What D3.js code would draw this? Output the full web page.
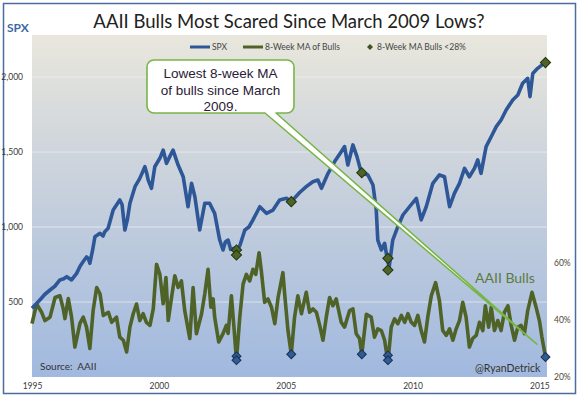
<!DOCTYPE html>
<html>
<head>
<meta charset="utf-8">
<script src="https://cdn.jsdelivr.net/npm/d3@7/dist/d3.min.js"></script>
<style>
  body { margin: 0; background: #fff; }
  svg { display: block; }
</style>
</head>
<body>
<div id="chart"></div>
<script>
// S&P 500 (weekly-ish closes), decimal years
const spxYear = [1995.00, 1995.15, 1995.31, 1995.50, 1995.71, 1995.90, 1996.10, 1996.25, 1996.37, 1996.56,
  1996.76, 1996.90, 1997.02, 1997.15, 1997.22, 1997.28, 1997.39, 1997.48, 1997.68, 1997.80, 1997.87, 1998.00,
  1998.20, 1998.46, 1998.55, 1998.66, 1998.76, 1998.86, 1999.06, 1999.25, 1999.45, 1999.52, 1999.58, 1999.71,
  1999.84, 2000.04, 2000.17, 2000.30, 2000.43, 2000.56, 2000.76, 2000.96, 2001.15, 2001.29, 2001.42, 2001.61,
  2001.81, 2002.00, 2002.20, 2002.40, 2002.53, 2002.62, 2002.73, 2002.83, 2002.95, 2003.06, 2003.20, 2003.39,
  2003.55, 2003.71, 2003.98, 2004.24, 2004.50, 2004.76, 2005.03, 2005.22, 2005.55, 2005.81, 2006.07, 2006.27,
  2006.41, 2006.67, 2006.93, 2007.19, 2007.32, 2007.45, 2007.65, 2007.81, 2007.98, 2008.24, 2008.44, 2008.57,
  2008.63, 2008.77, 2008.90, 2009.00, 2009.08, 2009.22, 2009.42, 2009.62, 2009.88, 2010.15, 2010.34, 2010.54,
  2010.80, 2011.06, 2011.26, 2011.46, 2011.65, 2011.85, 2012.05, 2012.24, 2012.44, 2012.57, 2012.70, 2012.90,
  2013.10, 2013.30, 2013.49, 2013.69, 2013.95, 2014.15, 2014.34, 2014.54, 2014.63, 2014.74, 2014.93, 2015.22];
const spxVal = [458, 485, 513, 550, 580, 605, 647, 655, 669, 647,
  691, 740, 770, 800, 791, 758, 847, 935, 958, 940, 969, 991,
  1113, 1180, 1150, 980, 1050, 1158, 1269, 1324, 1402, 1360, 1313, 1258,
  1402, 1458, 1513, 1424, 1469, 1513, 1413, 1335, 1135, 1291, 1202, 980,
  1158, 1158, 1091, 913, 847, 900, 913, 850, 858, 830, 880, 980,
  1000, 1047, 1135, 1091, 1113, 1180, 1191, 1169, 1230, 1269, 1302, 1313,
  1258, 1358, 1436, 1502, 1536, 1413, 1547, 1469, 1362, 1347, 1280, 1113,
  913, 847, 891, 790, 735, 913, 1002, 1080, 1135, 1191, 1047, 1135,
  1291, 1347, 1335, 1135, 1224, 1291, 1391, 1335, 1391, 1447, 1358, 1536,
  1602, 1669, 1713, 1780, 1847, 1880, 1958, 1991, 1869, 2024, 2058, 2096];

// AAII bulls, 8-week moving average (%)
const bullYear = [1995.00, 1995.18, 1995.38, 1995.51, 1995.71, 1995.91, 1996.10, 1996.23, 1996.30, 1996.43,
  1996.56, 1996.69, 1996.89, 1997.02, 1997.15, 1997.28, 1997.41, 1997.55, 1997.68, 1997.81, 1998.01, 1998.14,
  1998.33, 1998.46, 1998.60, 1998.73, 1998.86, 1998.99, 1999.12, 1999.25, 1999.38, 1999.51, 1999.65, 1999.78,
  1999.91, 2000.04, 2000.17, 2000.28, 2000.37, 2000.50, 2000.63, 2000.76, 2000.89, 2001.02, 2001.22, 2001.35,
  2001.48, 2001.68, 2001.81, 2001.94, 2002.05, 2002.14, 2002.20, 2002.36, 2002.53, 2002.66, 2002.73, 2002.86,
  2002.96, 2003.06, 2003.19, 2003.32, 2003.45, 2003.58, 2003.71, 2003.82, 2003.95, 2004.04, 2004.17, 2004.30,
  2004.44, 2004.57, 2004.70, 2004.89, 2004.96, 2005.09, 2005.22, 2005.35, 2005.48, 2005.62, 2005.81, 2005.94,
  2006.07, 2006.21, 2006.34, 2006.47, 2006.60, 2006.73, 2006.86, 2006.99, 2007.19, 2007.32, 2007.52, 2007.65,
  2007.78, 2007.91, 2008.00, 2008.18, 2008.37, 2008.50, 2008.63, 2008.77, 2008.90, 2009.03, 2009.16, 2009.29,
  2009.42, 2009.56, 2009.69, 2009.82, 2009.95, 2010.08, 2010.21, 2010.34, 2010.47, 2010.60, 2010.74, 2010.91,
  2011.06, 2011.19, 2011.33, 2011.46, 2011.59, 2011.72, 2011.85, 2011.98, 2012.11, 2012.24, 2012.37, 2012.51,
  2012.64, 2012.77, 2012.87, 2013.00, 2013.10, 2013.23, 2013.36, 2013.49, 2013.62, 2013.76, 2013.89, 2014.02,
  2014.15, 2014.28, 2014.41, 2014.54, 2014.71, 2014.87, 2015.00, 2015.10, 2015.24];
const bullPct = [38.7, 45.6, 42.7, 39.8, 41, 47.9, 48.5, 44, 40.5, 47.5,
  41, 30.5, 38.8, 41, 37.5, 30, 43.3, 51.4, 49.2, 41.6, 42.7, 39.2,
  41, 34, 32.9, 28.8, 37.5, 42.2, 45.6, 39.8, 42.2, 39.2, 38.1, 43.9,
  59.5, 56, 45.7, 54.9, 39.8, 47.9, 55.5, 51.4, 53.7, 43.3, 33.5, 51.4,
  35.2, 42, 49.1, 57.8, 44.5, 47.4, 41, 32.3, 35.2, 38.1, 35.3, 48.5,
  37.5, 25.9, 41, 52.6, 56, 53.7, 57.8, 56, 63.6, 57.2, 46.2, 47.4,
  44.5, 38.7, 47.9, 56.6, 49.1, 36.3, 28, 41, 48.5, 42.2, 49.7, 42.7,
  43.9, 42.7, 38.1, 32.9, 41, 47.9, 45, 47.4, 39.2, 37.5, 43.3, 43.9,
  35.2, 33.5, 28, 42, 41, 34, 36.9, 36.3, 32.9, 25.2, 37.5, 40.4,
  38.7, 41.6, 39.2, 42.2, 39.2, 38.1, 41.6, 36.3, 32.3, 41, 48.5, 53.1,
  46.8, 36.3, 34.6, 36.9, 32.9, 36.9, 39.8, 46.2, 41, 30.5, 33.5, 34.6,
  39.2, 36.3, 45, 37.5, 44.5, 36.3, 39.8, 36.3, 42.7, 45, 38.1, 32.9,
  37.5, 38.1, 35.2, 43.3, 49.7, 44.5, 39.8, 34, 27];

// weeks where the 8-week MA of bulls dropped under 28%
const signalYear = [2003.06, 2003.06, 2005.22, 2008.00, 2009.03, 2009.03, 2015.24];
const signalSpx = [847, 813, 1169, 1362, 791, 713, 2096];
const signalBull = [27.3, 25.9, 28, 28, 27.6, 25.9, 27];

const xTicks = [1995, 2000, 2005, 2010, 2015];
const spxTicks = [500, 1000, 1500, 2000];
const bullTicks = [20, 40, 60];

const legendItems = [
  { label: 'SPX', type: 'line', color: '#2e5797' },
  { label: '8-Week MA of Bulls', type: 'line', color: '#4f6228' },
  { label: '8-Week MA Bulls <28%', type: 'diamond', color: '#3f5220' }
];

function createViz(elem) {
  const width = 579,
    height = 397,
    margin = { top: 35, right: 32, bottom: 20, left: 32 },
    spxColor = '#2e5797',
    bullColor = '#4f6228',
    calloutGreen = '#78b547';

  const plotW = width - margin.left - margin.right,
    plotH = height - margin.top - margin.bottom;

  const svg = d3.select(elem)
    .append('svg')
    .attr('width', width)
    .attr('height', height)
    .style('font-family', 'Lato, "Open Sans", sans-serif');

  // plot-area gradient (beige-grey at top to blue at the bottom)
  const grad = svg.append('defs')
    .append('linearGradient')
    .attr('id', 'bg')
    .attr('x1', 0).attr('y1', 0).attr('x2', 0).attr('y2', 1);
  grad.append('stop').attr('offset', '0%').attr('stop-color', '#e9e7dd');
  grad.append('stop').attr('offset', '30%').attr('stop-color', '#d2d7dc');
  grad.append('stop').attr('offset', '100%').attr('stop-color', '#a1b9df');

  // chart frame
  svg.append('rect')
    .attr('x', 3.5).attr('y', 3.5)
    .attr('width', width - 7).attr('height', height - 7)
    .attr('fill', '#fff')
    .attr('stroke', '#4a6d9c')
    .attr('stroke-width', 1.5);

  const g = svg.append('g')
    .attr('transform', 'translate(' + margin.left + ',' + margin.top + ')');

  g.append('rect')
    .attr('width', plotW)
    .attr('height', plotH)
    .attr('fill', 'url(#bg)');

  // scales
  const x = d3.scaleLinear().domain([1995, 2015.3]).range([0, plotW]);
  const ySpx = d3.scaleLinear().domain([0, 2280]).range([plotH, 0]);
  const yBull = d3.scaleLinear().domain([20, 140]).range([plotH, 0]);

  // gridlines
  g.append('g')
    .selectAll('line')
    .data(spxTicks)
    .enter()
    .append('line')
    .attr('x1', 0).attr('x2', plotW)
    .attr('y1', d => ySpx(d)).attr('y2', d => ySpx(d))
    .attr('stroke', '#eef1f3')
    .attr('stroke-opacity', 0.7)
    .attr('stroke-width', 1);

  // axes, no lines or ticks, just labels
  const axisLeft = g.append('g')
    .call(d3.axisLeft(ySpx).tickValues(spxTicks).tickFormat(d3.format(',')).tickSize(0).tickPadding(9));
  const axisRight = g.append('g')
    .attr('transform', 'translate(' + plotW + ',0)')
    .call(d3.axisRight(yBull).tickValues(bullTicks).tickFormat(d => d + '%').tickSize(0).tickPadding(7));
  const axisBottom = g.append('g')
    .attr('transform', 'translate(0,' + plotH + ')')
    .call(d3.axisBottom(x).tickValues(xTicks).tickFormat(d3.format('d')).tickSize(0).tickPadding(6));

  [axisLeft, axisRight, axisBottom].forEach(a => {
    a.select('.domain').remove();
    a.selectAll('text')
      .attr('font-size', '8.5px')
      .style('font-family', 'Lato, sans-serif')
      .attr('fill', '#3a3a3a');
  });
  axisRight.selectAll('text').attr('fill', '#4a4a30');

  // series
  const spxData = d3.zip(spxYear, spxVal);
  const bullData = d3.zip(bullYear, bullPct);

  g.append('path')
    .datum(bullData)
    .attr('fill', 'none')
    .attr('stroke', bullColor)
    .attr('stroke-width', 3.6)
    .attr('stroke-linejoin', 'round')
    .attr('d', d3.line().x(d => x(d[0])).y(d => yBull(d[1])));

  g.append('path')
    .datum(spxData)
    .attr('fill', 'none')
    .attr('stroke', spxColor)
    .attr('stroke-width', 3.6)
    .attr('stroke-linejoin', 'round')
    .attr('d', d3.line().x(d => x(d[0])).y(d => ySpx(d[1])));

  // signal diamonds: green on the SPX line, blue on the bulls line
  const signals = signalYear.map((yr, i) => ({ yr: yr, spx: signalSpx[i], bull: signalBull[i] }));
  const diamond = d3.symbol().type(d3.symbolSquare);

  g.append('g')
    .selectAll('path')
    .data(signals)
    .enter()
    .append('path')
    .attr('d', diamond.size(52)())
    .attr('transform', d => 'translate(' + x(d.yr) + ',' + ySpx(d.spx) + ')rotate(45)')
    .attr('fill', '#4c6426')
    .attr('stroke', '#26330f')
    .attr('stroke-width', 1);

  g.append('g')
    .selectAll('path')
    .data(signals)
    .enter()
    .append('path')
    .attr('d', diamond.size(40)())
    .attr('transform', d => 'translate(' + x(d.yr) + ',' + yBull(d.bull) + ')rotate(45)')
    .attr('fill', '#2f5b97')
    .attr('stroke', '#1b2f52')
    .attr('stroke-width', 1);

  ////// LEGEND ////////////
  const legendX = [158, 211, 335];
  const legend = g.append('g')
    .attr('transform', 'translate(0,12)');
  const items = legend.selectAll('g')
    .data(legendItems)
    .enter()
    .append('g')
    .attr('transform', (d, i) => 'translate(' + legendX[i] + ',0)');
  items.filter(d => d.type === 'line')
    .append('line')
    .attr('x1', 0).attr('x2', 20)
    .attr('stroke', d => d.color)
    .attr('stroke-width', 3);
  items.filter(d => d.type === 'diamond')
    .append('path')
    .attr('d', diamond.size(18)())
    .attr('transform', 'translate(3,0)rotate(45)')
    .attr('fill', d => d.color);
  items.append('text')
    .attr('x', d => d.type === 'line' ? 22 : 10)
    .attr('dy', '0.35em')
    .attr('font-size', '8.5px')
    .attr('fill', '#444')
    .text(d => d.label);

  // labels inside the plot
  g.append('text')
    .attr('x', 443).attr('y', 248)
    .attr('font-size', '14px')
    .attr('fill', '#5d7a3e')
    .text('AAII Bulls');

  g.append('text')
    .attr('x', 8).attr('y', 335)
    .attr('font-size', '10px')
    .attr('fill', '#333')
    .attr('xml:space', 'preserve')
    .text('Source:  AAII');

  g.append('text')
    .attr('x', 443).attr('y', 337)
    .attr('font-size', '10.5px')
    .attr('fill', '#333')
    .text('@RyanDetrick');

  // callout box with its pointer down to the latest reading
  const tipX = x(2014.9), tipY = yBull(31.5);
  const bx = 115, by = 25, bw = 147, bh = 53, r = 7;
  const baseL = 118 + bx, baseR = 129 + bx;
  const callout = d3.path();
  callout.moveTo(bx + r, by);
  callout.lineTo(bx + bw - r, by);
  callout.arcTo(bx + bw, by, bx + bw, by + r, r);
  callout.lineTo(bx + bw, by + bh - r);
  callout.arcTo(bx + bw, by + bh, bx + bw - r, by + bh, r);
  callout.lineTo(baseR, by + bh);
  callout.lineTo(tipX, tipY);
  callout.lineTo(baseL, by + bh);
  callout.lineTo(bx + r, by + bh);
  callout.arcTo(bx, by + bh, bx, by + bh - r, r);
  callout.lineTo(bx, by + r);
  callout.arcTo(bx, by, bx + r, by, r);
  callout.closePath();

  g.append('path')
    .attr('d', callout.toString())
    .attr('fill', '#fff')
    .attr('stroke', calloutGreen)
    .attr('stroke-width', 1.6)
    .attr('stroke-linejoin', 'round');

  g.append('text')
    .attr('font-family', '"Liberation Sans", Arial, sans-serif')
    .attr('font-size', '13.5px')
    .attr('fill', '#2a2035')
    .attr('text-anchor', 'middle')
    .selectAll('tspan')
    .data(['Lowest 8-week MA', 'of bulls since March', '2009.'])
    .enter()
    .append('tspan')
    .attr('x', bx + bw / 2)
    .attr('y', (d, i) => by + 18 + i * 16.5)
    .text(d => d);

  // title and left axis name
  svg.append('text')
    .attr('x', 289).attr('y', 28)
    .attr('text-anchor', 'middle')
    .attr('font-size', '18.5px')
    .attr('fill', '#222')
    .text('AAII Bulls Most Scared Since March 2009 Lows?');

  svg.append('text')
    .attr('x', 7).attr('y', 32)
    .attr('font-size', '12px')
    .attr('font-weight', 'bold')
    .attr('fill', '#3b69a6')
    .text('SPX');
}

createViz(document.getElementById('chart'));
</script>
</body>
</html>
